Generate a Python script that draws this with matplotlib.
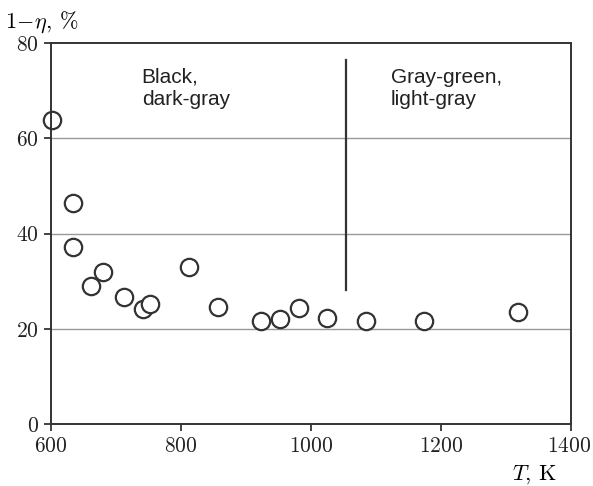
import numpy as np
import matplotlib
matplotlib.use("Agg")
import matplotlib.pyplot as plt
import matplotlib.transforms as mtrans

# temperature, K and 1-eta, %
T = [602, 635, 634, 662, 680, 712, 742, 753, 812, 857, 924, 952, 982, 1025, 1085, 1175, 1319]
val = [63.8, 46.4, 37.1, 29.0, 31.9, 26.7, 24.1, 25.2, 32.9, 24.5, 21.7, 22.0, 24.4, 22.2, 21.7, 21.7, 23.5]

plt.rcParams['font.family'] = 'serif'
plt.rcParams['font.serif'] = ['cmr10']
plt.rcParams['mathtext.fontset'] = 'cm'
plt.rcParams['axes.formatter.use_mathtext'] = True

fig = plt.figure(figsize=(5.93, 4.86), dpi=100)
ax = fig.add_axes([0.0855, 0.127, 0.877, 0.785])

for yy in [20, 40, 60]:
    ax.axhline(yy, color='#999999', lw=1.0, zorder=0)

ax.plot(T, val, 'o', ms=12.5, mfc='white', mec='#333333', mew=1.6, ls='none', clip_on=False)

ax.plot([1054, 1054], [28.1, 76.4], color='#333333', lw=1.6)

ax.text(740, 74.8, "Black,\ndark-gray", family='Liberation Sans', fontsize=15,
        va='top', ha='left', linespacing=1.25, color='#222222')
ax.text(1123, 74.8, "Gray-green,\nlight-gray", family='Liberation Sans', fontsize=15,
        va='top', ha='left', linespacing=1.25, color='#222222')

ax.set_xlim(600, 1400)
ax.set_ylim(0, 80)
ax.set_xticks([600, 800, 1000, 1200, 1400])
ax.set_yticks([0, 20, 40, 60, 80])
ax.tick_params(direction='out', length=5, width=1.2, labelsize=15.5, colors='#222222')
for s in ax.spines.values():
    s.set_color('#333333')
    s.set_linewidth(1.4)

# keep the last x label inside the picture
fig.canvas.draw()
last = ax.get_xticklabels()[-1]
last.set_transform(last.get_transform() + mtrans.ScaledTranslation(-0.02, 0, fig.dpi_scale_trans))

fig.text(0.008, 0.955, r"$1\!-\!\eta$, %", fontsize=16, ha='left', va='center')
fig.text(0.939, 0.024, r"$T$, K", fontsize=16, ha='right', va='center')

fig.savefig("out.png", dpi=100)
